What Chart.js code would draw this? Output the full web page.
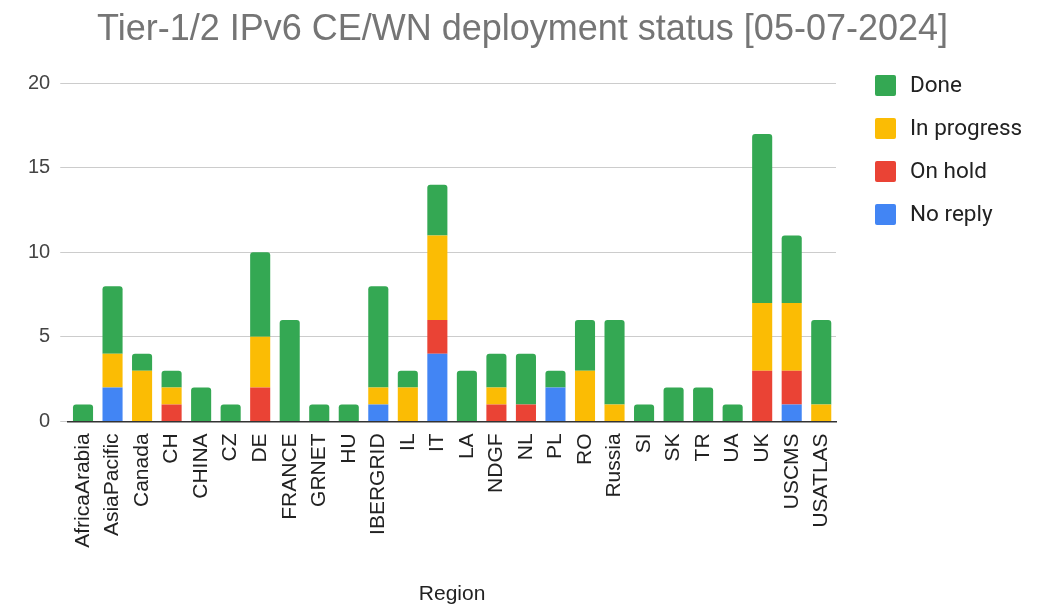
<!DOCTYPE html>
<html>
<head>
<meta charset="utf-8">
<script src="https://cdn.jsdelivr.net/npm/chart.js@4"></script>
<style>
    body { margin: 0; background: #fff; }
    #wrap { width: 1045px; height: 607px; }
</style>
</head>
<body>
<div id="wrap"><canvas id="barChart"></canvas></div>
<script>
const regions = ["AfricaArabia", "AsiaPacific", "Canada", "CH", "CHINA", "CZ", "DE", "FRANCE", "GRNET", "HU",
    "IBERGRID", "IL", "IT", "LA", "NDGF", "NL", "PL", "RO", "Russia", "SI", "SK", "TR", "UA", "UK", "USCMS", "USATLAS"];

// stacked bottom -> top
const noReply    = [0, 2, 0, 0, 0, 0, 0, 0, 0, 0, 1, 0, 4, 0, 0, 0, 2, 0, 0, 0, 0, 0, 0, 0, 1, 0];
const onHold     = [0, 0, 0, 1, 0, 0, 2, 0, 0, 0, 0, 0, 2, 0, 1, 1, 0, 0, 0, 0, 0, 0, 0, 3, 2, 0];
const inProgress = [0, 2, 3, 1, 0, 0, 3, 0, 0, 0, 1, 2, 5, 0, 1, 0, 0, 3, 1, 0, 0, 0, 0, 4, 4, 1];
const done       = [1, 4, 1, 1, 2, 1, 5, 6, 1, 1, 6, 1, 3, 3, 2, 3, 1, 3, 5, 1, 2, 2, 1, 10, 4, 5];

const yTicks = [0, 5, 10, 15, 20];

const FONT = "'Liberation Sans', Arial, sans-serif";

// only the topmost non-empty segment gets rounded corners
function topRadius(ctx) {
    const i = ctx.dataIndex;
    const above = ctx.chart.data.datasets.slice(ctx.datasetIndex + 1).some(ds => ds.data[i] > 0);
    return above ? 0 : { topLeft: 3, topRight: 3, bottomLeft: 0, bottomRight: 0 };
}

// legend on the right, drawn by hand so it lines up with the top of the plot
const sideLegend = {
    id: "sideLegend",
    afterLayout(chart) {
        // title should stay centred on the whole canvas, not just the padded area
        const t = chart.titleBlock;
        t.left = 0;
        t.right = chart.width;
        t.width = chart.width;
    },
    afterDraw(chart) {
        const c = chart.ctx;
        const sets = chart.data.datasets.slice().reverse();
        c.save();
        c.font = "22.5px Roboto, sans-serif";
        c.textBaseline = "middle";
        sets.forEach((ds, k) => {
            const y = 85 + k * 43;
            c.fillStyle = ds.backgroundColor;
            c.beginPath();
            c.roundRect(875, y - 10, 21, 21, 2);
            c.fill();
            c.fillStyle = "#222";
            c.fillText(ds.label, 910, y + 1);
        });
        c.restore();
    }
};

const ctx = document.getElementById("barChart").getContext("2d");

new Chart(ctx, {
    type: "bar",
    data: {
        labels: regions,
        datasets: [
            { label: "No reply", data: noReply, backgroundColor: "#4285F4" },
            { label: "On hold", data: onHold, backgroundColor: "#EA4335" },
            { label: "In progress", data: inProgress, backgroundColor: "#FBBC04" },
            { label: "Done", data: done, backgroundColor: "#34A853" }
        ]
    },
    options: {
        responsive: true,
        maintainAspectRatio: false,
        animation: false,
        datasets: {
            bar: {
                categoryPercentage: 1,
                barPercentage: 0.68,
                borderRadius: topRadius
            }
        },
        layout: {
            padding: { left: 18, right: 209, top: 0, bottom: 0 }
        },
        plugins: {
            legend: { display: false },
            tooltip: { enabled: false },
            title: {
                display: true,
                text: "Tier-1/2 IPv6 CE/WN deployment status [05-07-2024]",
                color: "#757575",
                font: { family: FONT, size: 36, weight: "normal" },
                padding: { top: 8, bottom: 32 }
            }
        },
        scales: {
            x: {
                stacked: true,
                grid: { display: false },
                border: { display: true, color: "#333", width: 1.5 },
                ticks: {
                    color: "#222",
                    font: { family: FONT, size: 21 },
                    minRotation: 90,
                    maxRotation: 90,
                    autoSkip: false,
                    padding: 4
                },
                title: {
                    display: true,
                    text: "Region",
                    color: "#222",
                    font: { family: FONT, size: 21 },
                    padding: { top: 30, bottom: 0 }
                }
            },
            y: {
                stacked: true,
                min: 0,
                max: 20,
                afterBuildTicks: axis => {
                    axis.ticks = yTicks.map(v => ({ value: v }));
                },
                grid: { color: "#cccccc", tickColor: "#cccccc", tickLength: 8 },
                border: { display: false },
                ticks: {
                    color: "#444",
                    font: { family: FONT, size: 20 },
                    padding: 10
                }
            }
        }
    },
    plugins: [sideLegend]
});
</script>
</body>
</html>
